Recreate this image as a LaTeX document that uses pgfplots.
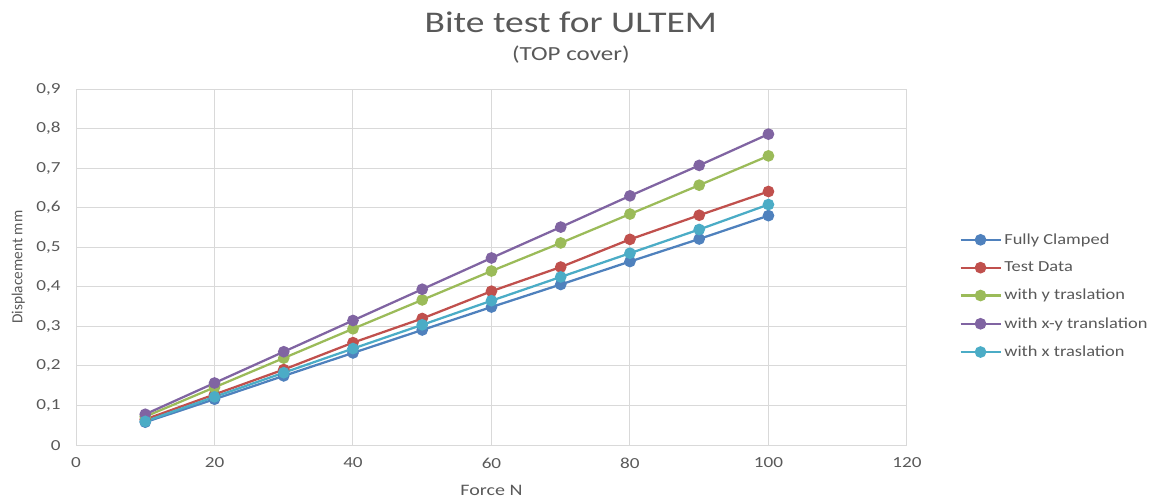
\documentclass[border=0pt]{standalone}
\usepackage{fontspec}
\setmainfont{Carlito}
\newfontfamily\wide[FakeStretch=1.25]{Carlito}
\newfontfamily\legfont[FakeStretch=1.2]{Carlito}
\usepackage{pgfplots}
\pgfplotsset{compat=1.18}
\usetikzlibrary{calc}
\definecolor{cBlue}{HTML}{4F81BD}
\definecolor{cRed}{HTML}{C0504D}
\definecolor{cGreen}{HTML}{9BBB59}
\definecolor{cPurple}{HTML}{8064A2}
\definecolor{cAqua}{HTML}{4BACC6}
\definecolor{txt}{HTML}{595959}
\definecolor{gridc}{HTML}{D9D9D9}
\begin{document}
\begin{tikzpicture}
\begin{axis}[name=ax,
  scale only axis, width=623pt, height=267pt,
  xmin=0, xmax=120, ymin=0, ymax=0.9,
  xtick={0,20,...,120}, ytick={0,0.1,...,0.9},
  /pgf/number format/assume math mode=true,
  /pgf/number format/use comma, /pgf/number format/fixed,
  yticklabel style={/pgf/number format/precision=1},
  major tick length=0pt,
  ticklabel style={font=\wide\fontsize{11.5}{13}\selectfont, text=txt},
  xticklabel style={yshift=-6pt},
  yticklabel style={xshift=-8pt},
  grid=major, grid style={gridc, line width=0.75pt},
  axis line style={gridc, line width=0.75pt},
  xlabel={Force N}, ylabel={Displacement mm},
  xlabel style={font=\wide\fontsize{12}{14}\selectfont, text=txt,
    at={(axis description cs:0.5,-0.1)}, anchor=north},
  ylabel style={font=\fontsize{11.5}{13}\selectfont, text=txt,
    at={(axis description cs:-0.056,0.5)}},
  every axis plot/.append style={line width=1.7pt, mark=*, mark size=3.5pt},
  legend style={draw=none, at={(1.058,0.61)}, anchor=north west,
    font=\legfont\fontsize{11.5}{14}\selectfont, text=txt, row sep=7.7pt, fill=none},
  legend cell align=left,
  legend image code/.code={\draw[mark repeat=2, mark phase=2, #1] plot coordinates {(0pt,0pt) (15pt,0pt) (30pt,0pt)};},
]
\addplot[cBlue, mark options={fill=cBlue}] coordinates {(10,0.058) (20,0.116) (30,0.175) (40,0.233) (50,0.291) (60,0.349) (70,0.406) (80,0.464) (90,0.521) (100,0.580)};
\addplot[cRed, mark options={fill=cRed}] coordinates {(10,0.065) (20,0.128) (30,0.191) (40,0.259) (50,0.320) (60,0.389) (70,0.450) (80,0.520) (90,0.581) (100,0.641)};
\addplot[cGreen, mark options={fill=cGreen}] coordinates {(10,0.072) (20,0.146) (30,0.220) (40,0.294) (50,0.367) (60,0.440) (70,0.511) (80,0.584) (90,0.657) (100,0.731)};
\addplot[cPurple, mark options={fill=cPurple}] coordinates {(10,0.078) (20,0.157) (30,0.236) (40,0.315) (50,0.394) (60,0.473) (70,0.551) (80,0.630) (90,0.707) (100,0.786)};
\addplot[cAqua, mark options={fill=cAqua}] coordinates {(10,0.060) (20,0.122) (30,0.183) (40,0.244) (50,0.304) (60,0.365) (70,0.425) (80,0.485) (90,0.545) (100,0.608)};
\legend{Fully Clamped, Test Data, with y traslation, with x-y translation, with x traslation}
\end{axis}
\node[text=txt, font=\wide\fontsize{22.5}{25}\selectfont] at ($(ax.north west)+(371pt,50pt)$) {Bite test for ULTEM};
\node[text=txt, font=\wide\fontsize{15}{18}\selectfont] at ($(ax.north west)+(371pt,26pt)$) {(TOP cover)};
\useasboundingbox ($(ax.south west)+(-57pt,-39.75pt)$) rectangle ($(ax.north east)+(186.75pt,66.75pt)$);
\end{tikzpicture}
\end{document}
